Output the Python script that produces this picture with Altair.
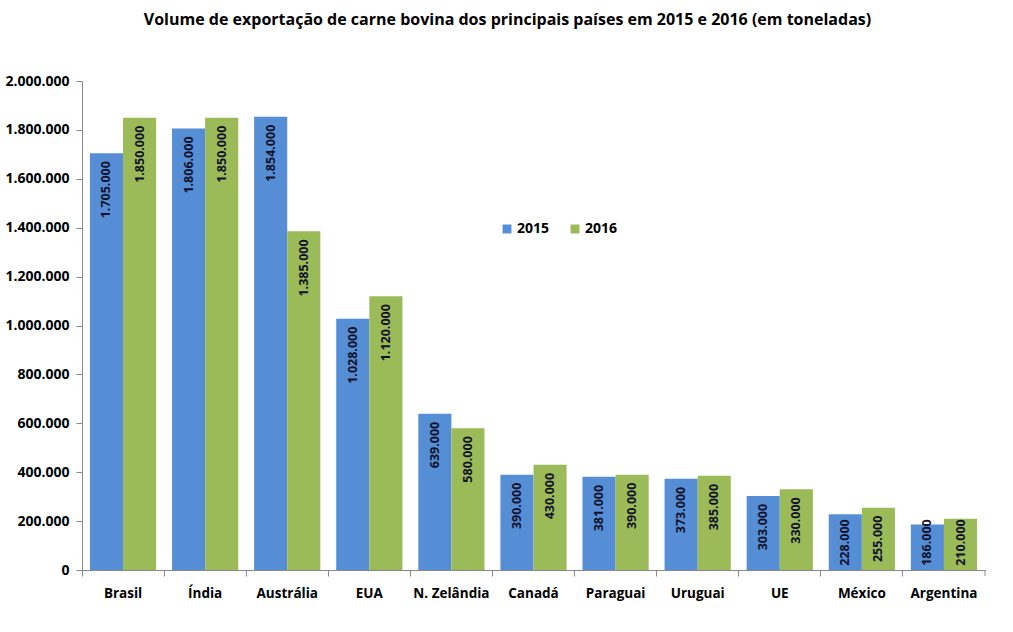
import altair as alt
import pandas as pd

countries = ["Brasil", "Índia", "Austrália", "EUA", "N. Zelândia", "Canadá",
             "Paraguai", "Uruguai", "UE", "México", "Argentina"]
v2015 = [1705000, 1806000, 1854000, 1028000, 639000, 390000, 381000, 373000, 303000, 228000, 186000]
v2016 = [1850000, 1850000, 1385000, 1120000, 580000, 430000, 390000, 385000, 330000, 255000, 210000]
years = ["2015", "2016"]
colors = ["#558ED5", "#9BBB59"]

rows = []
for i, c in enumerate(countries):
    rows.append({"pais": c, "ano": "2015", "valor": v2015[i]})
    rows.append({"pais": c, "ano": "2016", "valor": v2016[i]})
df = pd.DataFrame(rows)

FONT = "Open Sans"
W, H = 903, 489

x = alt.X("pais:N", sort=countries, title=None,
          scale=alt.Scale(paddingInner=0, paddingOuter=0),
          axis=alt.Axis(labelAngle=0, labelFont=FONT, labelFontWeight="bold",
                        labelFontSize=13.5, labelColor="#000", labelPadding=10,
                        bandPosition=0, tickSize=6, tickColor="#888",
                        domainColor="#888", ticks=True, grid=False))
xo = alt.XOffset("ano:N", scale=alt.Scale(paddingOuter=0.24, paddingInner=0))

base = alt.Chart(df)

bars = base.mark_bar().encode(
    x=x, xOffset=xo,
    y=alt.Y("valor:Q", title=None,
            scale=alt.Scale(domain=[0, 2000000]),
            axis=alt.Axis(values=list(range(0, 2000001, 200000)),
                          labelExpr="replace(format(datum.value, ','), /,/g, '.')",
                          labelFont=FONT, labelFontWeight="bold", labelFontSize=14,
                          labelColor="#000", tickSize=6, tickColor="#888",
                          domainColor="#888", grid=False, labelPadding=7)),
    color=alt.Color("ano:N", scale=alt.Scale(domain=years, range=colors),
                    legend=alt.Legend(title=None, orient="none", legendX=418, legendY=141,
                                      direction="horizontal", symbolType="square",
                                      symbolSize=80, symbolStrokeWidth=0,
                                      labelFont=FONT, labelFontWeight="bold",
                                      labelFontSize=14, labelColor="#000",
                                      columnPadding=18, labelOffset=3)),
)

labels = base.transform_calculate(
    lab="replace(format(datum.valor, ','), /,/g, '.')",
    ypos="max(datum.valor, 240000)"
).mark_text(angle=270, align="right", baseline="middle", dx=-8,
            font=FONT, fontWeight="bold", fontSize=12.5, color="#10102a").encode(
    x=x, xOffset=xo,
    y=alt.Y("ypos:Q"),
    text="lab:N",
)

end_tick = alt.Chart(pd.DataFrame({"a": [0]})).mark_rule(color="#888").encode(
    x=alt.value(W), y=alt.value(H), y2=alt.value(H + 6))

chart = alt.layer(bars, labels, end_tick).properties(
    width=W, height=H,
    title=alt.TitleParams("Volume de exportação de carne bovina dos principais países em 2015 e 2016 (em toneladas)",
                          font=FONT, fontSize=16, fontWeight="bold", color="#000",
                          anchor="middle", offset=46, dx=-26),
    autosize=alt.AutoSizeParams(type="none"),
    padding={"left": 82, "top": 81, "right": 28, "bottom": 62},
    background="white",
).configure_view(strokeWidth=0, stroke=None)

chart.save("out.html", embed_options={"renderer": "svg", "actions": False})
